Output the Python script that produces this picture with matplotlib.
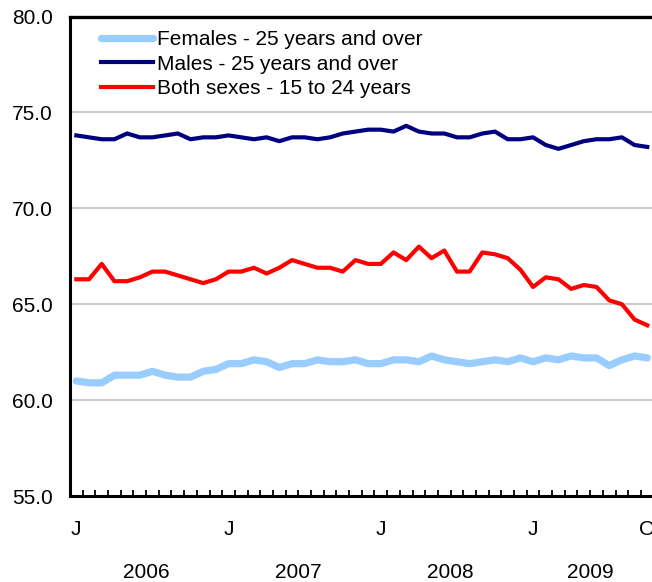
import matplotlib
matplotlib.use("Agg")
import matplotlib.pyplot as plt
import matplotlib.transforms as mtransforms
import numpy as np

plt.rcParams['font.family'] = ['Liberation Sans', 'DejaVu Sans']

months = list(range(46))  # Jan 2006 .. Oct 2009
females = [61.0, 60.9, 60.9, 61.3, 61.3, 61.3, 61.5, 61.3, 61.2, 61.2, 61.5, 61.6,
           61.9, 61.9, 62.1, 62.0, 61.7, 61.9, 61.9, 62.1, 62.0, 62.0, 62.1, 61.9,
           61.9, 62.1, 62.1, 62.0, 62.3, 62.1, 62.0, 61.9, 62.0, 62.1, 62.0, 62.2,
           62.0, 62.2, 62.1, 62.3, 62.2, 62.2, 61.8, 62.1, 62.3, 62.2]
males = [73.8, 73.7, 73.6, 73.6, 73.9, 73.7, 73.7, 73.8, 73.9, 73.6, 73.7, 73.7,
         73.8, 73.7, 73.6, 73.7, 73.5, 73.7, 73.7, 73.6, 73.7, 73.9, 74.0, 74.1,
         74.1, 74.0, 74.3, 74.0, 73.9, 73.9, 73.7, 73.7, 73.9, 74.0, 73.6, 73.6,
         73.7, 73.3, 73.1, 73.3, 73.5, 73.6, 73.6, 73.7, 73.3, 73.2]
youth = [66.3, 66.3, 67.1, 66.2, 66.2, 66.4, 66.7, 66.7, 66.5, 66.3, 66.1, 66.3,
         66.7, 66.7, 66.9, 66.6, 66.9, 67.3, 67.1, 66.9, 66.9, 66.7, 67.3, 67.1,
         67.1, 67.7, 67.3, 68.0, 67.4, 67.8, 66.7, 66.7, 67.7, 67.6, 67.4, 66.8,
         65.9, 66.4, 66.3, 65.8, 66.0, 65.9, 65.2, 65.0, 64.2, 63.9]
labels = ["Females - 25 years and over", "Males - 25 years and over",
          "Both sexes - 15 to 24 years"]
colors = ["#99CCFF", "#000080", "#FF0000"]
month_tick_pos = [0, 12, 24, 36, 45]
month_tick_labels = ["J", "J", "J", "J", "O"]
years = ["2006", "2007", "2008", "2009"]
year_centers = [5.5, 17.5, 29.5, 40.5]
yticks = [55, 60, 65, 70, 75, 80]

fig = plt.figure(figsize=(6.52, 5.82), dpi=100)
ax = fig.add_axes([70/652, 1-496/582, (653.6-70)/652, (496-16.5)/582])

for yv in yticks[1:-1]:
    ax.axhline(yv, color="#CCCCCC", lw=1.6, zorder=1)

ax.plot(months, females, color=colors[0], lw=5.2, label=labels[0], zorder=3,
        solid_capstyle='round', solid_joinstyle='round')
ax.plot(months, males, color=colors[1], lw=3.0, label=labels[1], zorder=3,
        solid_joinstyle='round')
ax.plot(months, youth, color=colors[2], lw=3.0, label=labels[2], zorder=3,
        solid_joinstyle='round')

ax.set_xlim(-0.5, 45.5)
ax.set_ylim(55, 80)
ax.set_yticks(yticks)
ax.set_yticklabels([f"{v:.1f}" for v in yticks])
ax.set_xticks(month_tick_pos)
ax.set_xticklabels(month_tick_labels)
ax.set_xticks(np.arange(-0.5, 46, 1.0), minor=True)
ax.tick_params(axis='y', length=0, pad=12.5, labelsize=15)
ax.tick_params(axis='x', which='major', length=0, pad=17.5, labelsize=15)
ax.tick_params(axis='x', which='minor', direction='in', length=4.5, width=1.3)

for s in ['left', 'bottom']:
    ax.spines[s].set_linewidth(2.2)
ax.spines['top'].set_linewidth(2.4)
ax.spines['right'].set_visible(False)

trans = mtransforms.blended_transform_factory(ax.transData, fig.transFigure)
for yr, c in zip(years, year_centers):
    ax.text(c, 1-572/582, yr, transform=trans, ha='center', va='center', fontsize=15)

leg = ax.legend(loc='upper left', bbox_to_anchor=(0.038, 0.989), frameon=False,
                fontsize=15, handlelength=2.5, handletextpad=0.2,
                labelspacing=0.27, borderaxespad=0.0)

fig.savefig("out.png", dpi=100)
